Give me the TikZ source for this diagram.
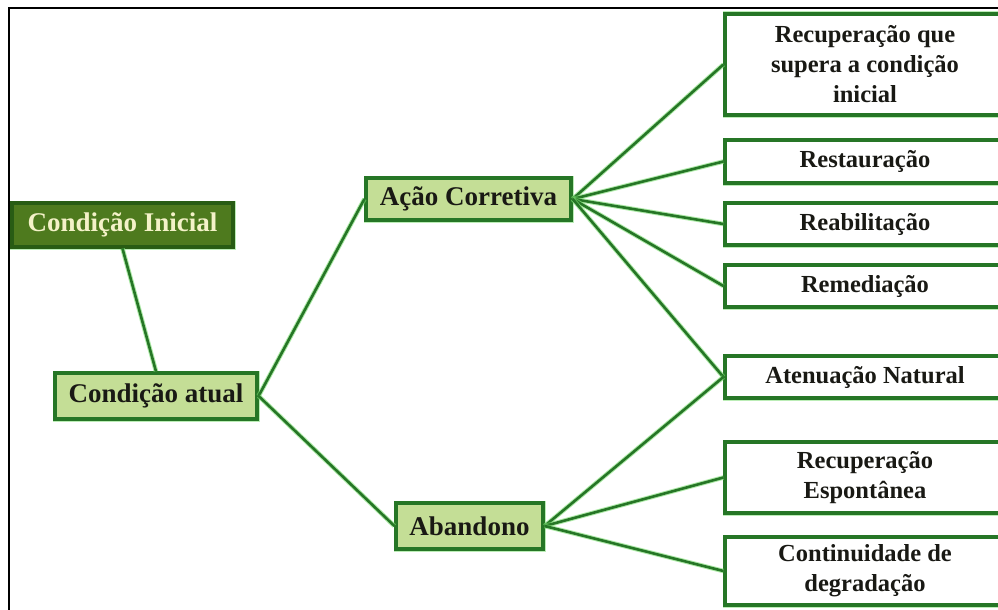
\documentclass[tikz,border=0pt]{standalone}
\usepackage{fontspec}
\setmainfont{Liberation Serif}
\definecolor{edge}{RGB}{38,118,38}
\definecolor{glow}{RGB}{120,220,110}
\definecolor{darkfill}{RGB}{78,122,30}
\definecolor{darkedge}{RGB}{40,92,20}
\definecolor{lightfill}{RGB}{196,222,150}
\definecolor{cream}{RGB}{244,242,200}
\definecolor{ink}{RGB}{25,25,20}
\tikzset{
  box/.style={draw=edge, line width=3.2pt, inner sep=0pt, align=center,
    font=\bfseries\fontsize{24.5}{30}\selectfont, text=ink, fill=white,
    preaction={draw=glow, line width=5pt, opacity=0.5}},
  midbox/.style={box, fill=lightfill, font=\bfseries\fontsize{27}{30}\selectfont},
  topbox/.style={box, fill=darkfill, draw=darkedge, text=cream,
    font=\bfseries\fontsize{27}{30}\selectfont},
  link/.style={draw=edge, line width=2.6pt,
    preaction={draw=glow, line width=4.6pt, opacity=0.6}}
}
\begin{document}
\begin{tikzpicture}[x=1pt, y=-1pt]
\useasboundingbox (0,0) rectangle (998,610);
\clip (0,0) rectangle (998,610);
% frame
\draw[black, line width=2pt] (9,610) -- (9,8) -- (998,8);

% left column
\node[topbox, minimum width=221pt, minimum height=44pt] (ini) at (122.5,225) {Condição Inicial};
\node[midbox, minimum width=202pt, minimum height=46pt] (atual) at (156,396) {Condição atual};

% middle column
\node[midbox, minimum width=205pt, minimum height=42pt] (acao) at (468.5,199) {Ação Corretiva};
\node[midbox, minimum width=147pt, minimum height=46pt] (aband) at (469.5,526) {Abandono};

% right column
\node[box, minimum width=280pt, minimum height=101pt] (r1) at (865,64.5) {Recuperação que\\supera a condição\\inicial};
\node[box, minimum width=280pt, minimum height=43pt] (r2) at (865,161.5) {Restauração};
\node[box, minimum width=280pt, minimum height=42pt] (r3) at (865,224) {Reabilitação};
\node[box, minimum width=280pt, minimum height=42pt] (r4) at (865,286) {Remediação};
\node[box, minimum width=280pt, minimum height=42pt] (r5) at (865,377) {Atenuação Natural};
\node[box, minimum width=280pt, minimum height=71pt] (r6) at (865,477.5) {Recuperação\\Espontânea};
\node[box, minimum width=280pt, minimum height=68pt] (r7) at (865,571) {Continuidade de\\degradação};

% connectors
\path[link] (ini.south) -- (atual.north);
\path[link] (atual.east) -- (acao.west);
\path[link] (atual.east) -- (aband.west);
\foreach \t in {r1,r2,r3,r4,r5} \path[link] (acao.east) -- (\t.west);
\foreach \t in {r5,r6,r7} \path[link] (aband.east) -- (\t.west);
\end{tikzpicture}
\end{document}
